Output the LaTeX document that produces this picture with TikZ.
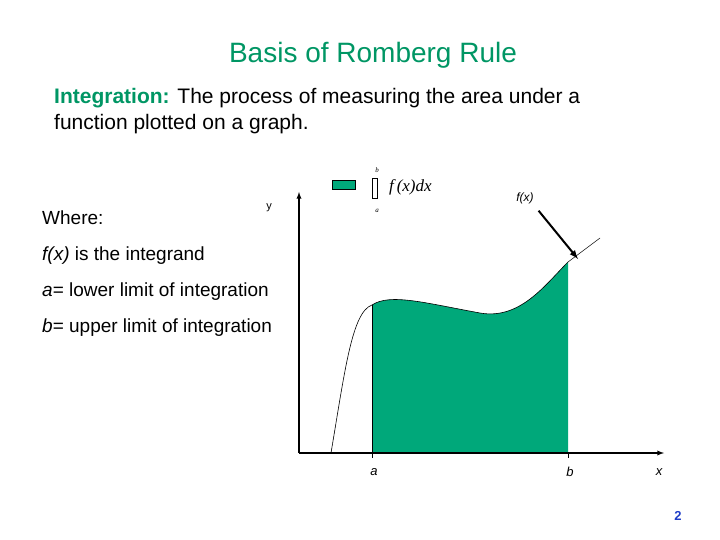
\documentclass[tikz,border=0pt]{standalone}
\usepackage{fontspec}
\setmainfont{Liberation Sans}
\newfontfamily\serifx{Liberation Serif}
\definecolor{titlegreen}{RGB}{0,150,100}
\definecolor{areagreen}{RGB}{0,168,122}
\definecolor{numblue}{RGB}{30,60,200}
\begin{document}
\begin{tikzpicture}[x=1pt,y=-1pt,
  lbl/.style={font=\fontsize{19}{22}\selectfont,anchor=west,inner sep=0},
  small/.style={font=\fontsize{12}{14}\selectfont\itshape,inner sep=0},
  axis/.style={line width=1.3pt,-latex}]
\useasboundingbox (0,0) rectangle (720,540);
\node[inner sep=0,text=titlegreen,font=\fontsize{28}{32}\selectfont] (title) at (373,55) {Basis of Romberg Rule};
\node[inner sep=0,anchor=north west,align=left,font=\fontsize{21}{26}\selectfont] (intro) at (54,88)
 {\textcolor{titlegreen}{\bfseries Integration:} The process of measuring the area under a\\function plotted on a graph.};
\node[lbl] (where) at (42,218) {Where:};
\node[lbl] (l1) at (42,256) {\textit{f(x)} is the integrand};
\node[lbl] (l2) at (42,292) {\textit{a}= lower limit of integration};
\node[lbl] (l3) at (42,328) {\textit{b}= upper limit of integration};
% area
\fill[areagreen] (372,453) -- (372,305) .. controls (390,293) and (425,303) .. (480,313)
  .. controls (520,320) and (545,285) .. (568,262) -- (568,453) -- cycle;
\draw[line width=0.6pt] (331,453) .. controls (345,370) and (352,312) .. (372,305);
\draw[line width=0.6pt] (372,305) .. controls (390,293) and (425,303) .. (480,313)
  .. controls (520,320) and (545,285) .. (568,262);
\draw[line width=0.5pt] (568,262) -- (600,238);
\draw[line width=0.8pt] (372,305) -- (372,458);
\draw[line width=0.8pt] (568,453) -- (568,458);
% axes
\coordinate (o) at (299,453);
\coordinate (yt) at (299,192);
\coordinate (xt) at (664,453);
\draw[axis] (o) -- (yt);
\draw[axis] (o) -- (xt);
% labels
\node[small,font=\fontsize{11}{13}\selectfont] (ylab) at (269,208) {y};
\node[small] (fxlab) at (525,198) {f(x)};
\coordinate (ptr) at (578,259);
\node[inner sep=0] (ptrs) at (538,210) {};
\draw[line width=2pt,-latex] (ptrs) -- (ptr);
\node[small,font=\fontsize{13}{15}\selectfont\itshape] (alab) at (374,472) {a};
\node[small,font=\fontsize{13}{15}\selectfont\itshape] (blab) at (570,472) {b};
\node[small,font=\fontsize{13}{15}\selectfont\itshape] (xlab) at (659,472) {x};
% legend
\node[draw=black,fill=areagreen,minimum width=23,minimum height=9,inner sep=0,line width=0.6pt] (leg) at (343.5,184.5) {};
\node[draw=black,minimum width=5,minimum height=20,inner sep=0,line width=0.5pt] (intbox) at (374.5,188) {};
\node[inner sep=0,font=\serifx\fontsize{7}{8}\selectfont\itshape] (ub) at (377,170) {b};
\node[inner sep=0,font=\serifx\fontsize{7}{8}\selectfont\itshape] (lb) at (377,211) {a};
\node[inner sep=0,anchor=west,font=\serifx\fontsize{17}{20}\selectfont\itshape] (intg) at (389,187) {f\,(x)dx};
\node[inner sep=0,text=numblue,font=\fontsize{13}{15}\selectfont\bfseries] (pg) at (678,516) {2};
\end{tikzpicture}
\end{document}
